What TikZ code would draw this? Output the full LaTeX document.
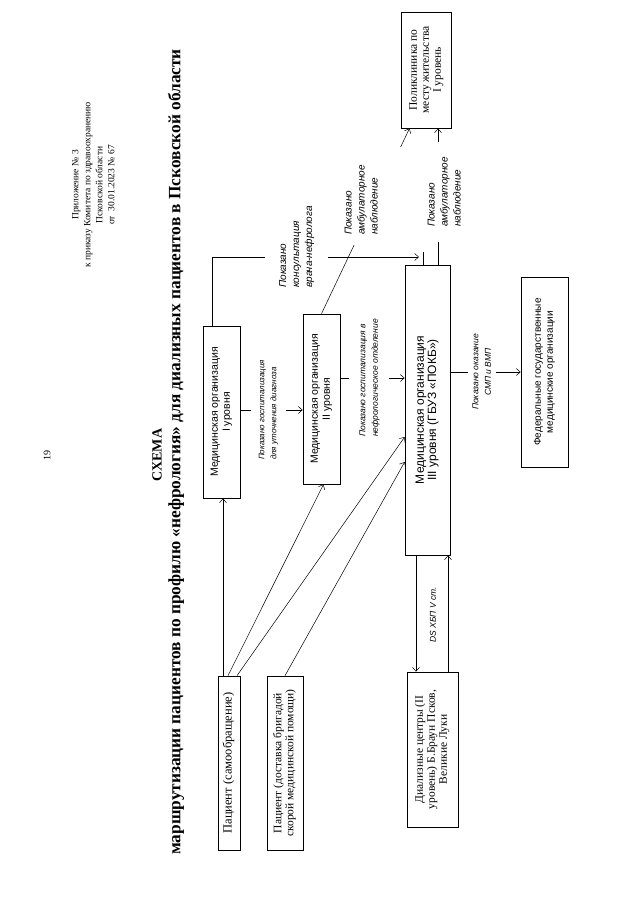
\documentclass[tikz,border=0pt]{standalone}
\usepackage{fontspec}
\usepackage{graphicx}
\setmainfont{Liberation Serif}
\newfontfamily\sansf{Liberation Sans}
\usetikzlibrary{arrows.meta,calc}
\newcommand{\rtext}[2][c]{\rotatebox{90}{\begin{tabular}{@{}#1@{}}#2\end{tabular}}}
\begin{document}
\begin{tikzpicture}[x=1pt,y=-1pt,
  box/.style={draw, line width=0.7pt, inner sep=0pt, align=center},
  lab/.style={inner sep=1pt, fill=white, font=\sansf\itshape\fontsize{8.5}{12.5}\selectfont},
  biglab/.style={lab, font=\sansf\itshape\fontsize{10}{13}\selectfont},
  smalllab/.style={lab, font=\sansf\itshape\fontsize{8}{12}\selectfont},
  ln/.style={line width=0.5pt},
  ar/.style={ln, -{Straight Barb[length=4pt,width=7pt]}},
]
\useasboundingbox[fill=white] (0,0) rectangle (640,905);

% header
\node (pg) at (47,455) {\rotatebox{90}{\fontsize{10}{12}\selectfont 19}};
\node (hdr) at (94,185) {\rtext{\fontsize{9.5}{13}\selectfont Приложение № 3\\ \fontsize{9.5}{13}\selectfont к приказу Комитета по здравоохранению\\ \fontsize{9.5}{13}\selectfont Псковской области\\ \fontsize{9.5}{13}\selectfont от\ \ 30.01.2023 № 67}};
\node (t1) at (157,455) {\rotatebox{90}{\fontsize{14}{16}\selectfont\bfseries СХЕМА}};
\node (t2) at (176,452) {\rotatebox{90}{\fontsize{17.3}{20}\selectfont\bfseries маршрутизации пациентов по профилю «нефрология» для диализных пациентов в Псковской области}};

% boxes
\node[box, minimum width=22, minimum height=174] (pself) at (229,763)
  {\rtext{\fontsize{12.5}{14}\selectfont Пациент (самообращение)}};
\node[box, minimum width=36, minimum height=174] (pamb) at (285,763)
  {\rtext{\fontsize{11.5}{13.5}\selectfont Пациент (доставка бригадой\\ \fontsize{11.5}{13.5}\selectfont скорой медицинской помощи)}};
\node[box, minimum width=37, minimum height=172] (mo1) at (221.5,412)
  {\rtext{\sansf\fontsize{10.5}{13}\selectfont Медицинская организация\\ \sansf\fontsize{10.5}{13}\selectfont I уровня}};
\node[box, minimum width=37, minimum height=170] (mo2) at (321.5,399)
  {\rtext{\sansf\fontsize{10.5}{13}\selectfont Медицинская организация\\ \sansf\fontsize{10.5}{13}\selectfont II уровня}};
\node[box, minimum width=45, minimum height=290] (mo3) at (427.5,410)
  {\rtext{\sansf\fontsize{12}{15}\selectfont Медицинская организация\\ \sansf\fontsize{12}{15}\selectfont III уровня (ГБУЗ «ПОКБ»)}};
\node[box, minimum width=50, minimum height=116] (poly) at (426.5,70)
  {\rtext{\fontsize{11.5}{13}\selectfont Поликлиника по\\ \fontsize{11.5}{13}\selectfont месту жительства\\ \fontsize{11.5}{13}\selectfont I уровень}};
\node[box, minimum width=47, minimum height=190] (fed) at (544.5,372)
  {\rtext{\sansf\fontsize{10}{13}\selectfont Федеральные государственные\\ \sansf\fontsize{10}{13}\selectfont медицинские организации}};
\node[box, minimum width=51, minimum height=155] (dial) at (432.5,749.5)
  {\rtext{\fontsize{11.5}{12.5}\selectfont Диализные центры (II\\ \fontsize{11.5}{12.5}\selectfont уровень) Б.Браун Псков,\\ \fontsize{11.5}{12.5}\selectfont Великие Луки}};

% coordinates for free ends
\coordinate (kink) at (212,257);
\coordinate (c1end) at (419,257);
\coordinate (stubtop) at (423,252);

% patients
\draw[ar] ([xshift=-6]pself.north) -- ([xshift=-6]pself.north |- mo1.south);
\draw[ar] ([xshift=-1]pself.north) -- ([xshift=2]mo2.south);
\draw[ar] ([xshift=8]pself.north) -- (mo3.west |- 0,437);
\draw[ar] (pamb.north) -- (mo3.west |- 0,462);

% level transitions with labels
\draw[ar] (mo1.east |- 0,410) -- (mo2.west |- 0,410);
\node[smalllab, minimum width=35] (l12) at (268,410)
  {\rtext[l]{Показано госпитализация\\ для уточнения диагноза}};
\draw[ar] (mo2.east |- 0,378) -- (mo3.west |- 0,378);
\node[lab, minimum width=40] (l23) at (369,378)
  {\rtext[l]{Показано госпитализация в\\ нефрологическое отделение}};
\draw[ar] (mo3.east |- 0,372) -- (fed.west |- 0,372);
\node[lab, minimum width=28] (l3f) at (482,372)
  {\rtext{Показано оказание\\ СМП и ВМП}};

% consultation line
\draw[ar] ([xshift=-9.5]mo1.north) -- (kink) -- (c1end);
\draw[ln] (mo3.north -| stubtop) -- (stubtop);
\node[biglab, minimum width=63] (l1c) at (296.5,247)
  {\rtext[l]{Показано\\ консультация\\ врача-нефролога}};

% ambulatory
\draw[ln] (mo2.north) -- ($(mo2.north)!0.37!([xshift=-17]poly.south)$);
\draw[ar] ($(mo2.north)!0.9!([xshift=-17]poly.south)$) -- ([xshift=-17]poly.south);
\node[biglab, fill=none] (lam1) at (362,200)
  {\rtext[l]{Показано\\ амбулаторное\\ наблюдение}};
\draw[ar] (mo3.north -| 438,0) -- (poly.south -| 438,0);
\node[biglab, minimum height=100] (lam2) at (445,192)
  {\rtext[l]{Показано\\ амбулаторное\\ наблюдение}};

% dialysis
\draw[ar] (mo3.south -| 416,0) -- (dial.north -| 416,0);
\draw[ar] (dial.north -| 448,0) -- (mo3.south -| 448,0);
\node[lab, fill=none] (lds) at (433,615) {\rotatebox{90}{DS ХБП V ст.}};
\end{tikzpicture}
\end{document}
